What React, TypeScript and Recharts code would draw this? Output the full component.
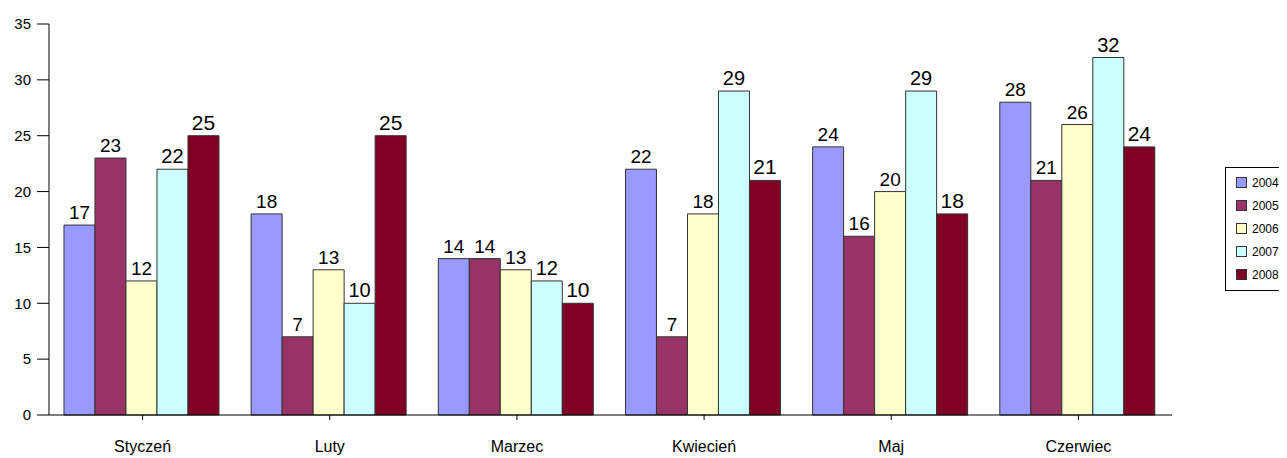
import { Bar, BarChart, LabelList, XAxis, YAxis } from "recharts";

const months = ["Styczeń", "Luty", "Marzec", "Kwiecień", "Maj", "Czerwiec"];
const y2004 = [17, 18, 14, 22, 24, 28];
const y2005 = [23, 7, 14, 7, 16, 21];
const y2006 = [12, 13, 13, 18, 20, 26];
const y2007 = [22, 10, 12, 29, 29, 32];
const y2008 = [25, 25, 10, 21, 18, 24];
const yTicks = [0, 5, 10, 15, 20, 25, 30, 35];

const series = [
  { key: "2004", values: y2004, color: "#9999FF", labelSize: 19 },
  { key: "2005", values: y2005, color: "#993366", labelSize: 19 },
  { key: "2006", values: y2006, color: "#FFFFCC", labelSize: 19 },
  { key: "2007", values: y2007, color: "#CCFFFF", labelSize: 20 },
  { key: "2008", values: y2008, color: "#800025", labelSize: 21 },
];

const data = months.map((m, i) => {
  const row: Record<string, string | number> = { month: m };
  series.forEach((s) => (row[s.key] = s.values[i]));
  return row;
});

const FONT = "'Liberation Sans', Arial, sans-serif";

// legend drawn as a plain box so it doesn't eat plot space
function LegendBox() {
  return (
    <div
      style={{
        position: "absolute",
        left: 1217,
        top: 159,
        border: "1px solid #000",
        background: "#fff",
        padding: "3px 0 4px 10px",
        width: 80,
        fontFamily: FONT,
        fontSize: 12,
      }}
    >
      {series.map((s) => (
        <div key={s.key} style={{ display: "flex", alignItems: "center", height: 23 }}>
          <span
            style={{
              width: 9,
              height: 9,
              background: s.color,
              border: "1px solid #333",
              marginRight: 5,
              display: "inline-block",
            }}
          />
          <span>{s.key}</span>
        </div>
      ))}
    </div>
  );
}

export default function App() {
  return (
    <div style={{ position: "relative", width: 1279, height: 450, fontFamily: FONT }}>
      <style>{"body{overflow:hidden}"}</style>
      <BarChart
        width={1279}
        height={450}
        data={data}
        margin={{ top: 16, right: 115, left: 0, bottom: 0 }}
        barCategoryGap="8%"
        barGap={0}
      >
        <XAxis
          dataKey="month"
          height={43}
          stroke="#000"
          tickSize={5}
          tickMargin={21}
          tick={{ fill: "#000", fontSize: 16, fontFamily: FONT }}
        />
        <YAxis
          width={41}
          domain={[0, 35]}
          ticks={yTicks}
          stroke="#000"
          tickSize={12}
          tickMargin={6}
          interval={0}
          tick={{ fill: "#000", fontSize: 15, fontFamily: FONT }}
        />
        {series.map((s) => (
          <Bar
            key={s.key}
            dataKey={s.key}
            fill={s.color}
            stroke="#333"
            strokeWidth={1}
            isAnimationActive={false}
          >
            <LabelList
              dataKey={s.key}
              position="top"
              offset={6}
              fill="#000"
              style={{ fontSize: s.labelSize, fontFamily: FONT }}
            />
          </Bar>
        ))}
      </BarChart>
      <LegendBox />
    </div>
  );
}
